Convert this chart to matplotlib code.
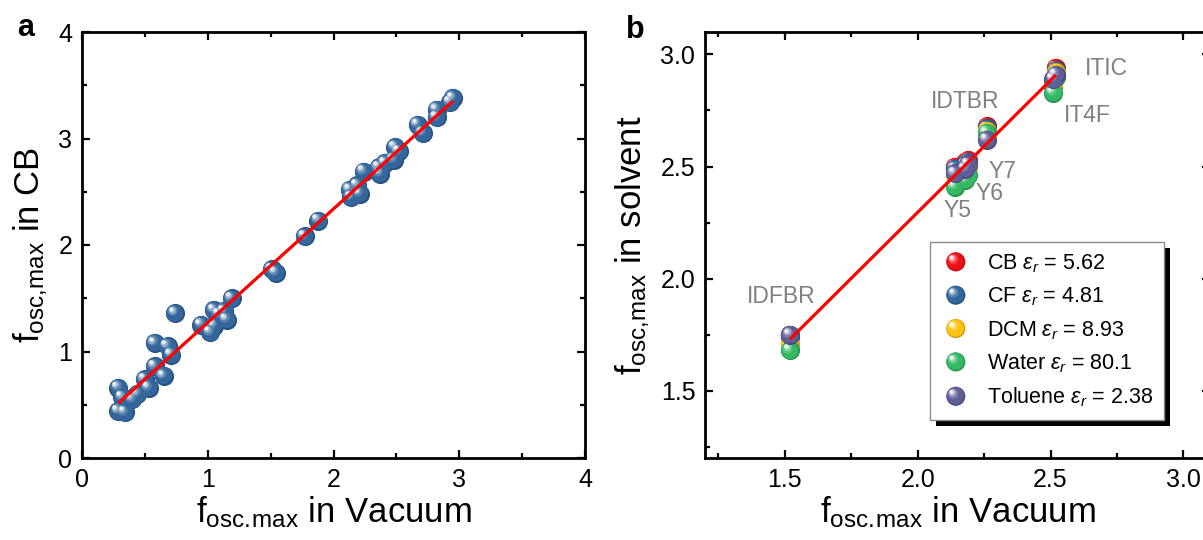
import numpy as np
import matplotlib
matplotlib.use("Agg")
import matplotlib.pyplot as plt
from matplotlib.colors import to_rgb
from matplotlib.transforms import ScaledTranslation, IdentityTransform
from matplotlib.patches import Circle, Rectangle
from matplotlib.lines import Line2D
from matplotlib.legend_handler import HandlerBase
from matplotlib.ticker import MultipleLocator

plt.rcParams["font.family"] = ["Liberation Sans", "DejaVu Sans"]
plt.rcParams["mathtext.fontset"] = "custom"
plt.rcParams["mathtext.rm"] = "Liberation Sans"
plt.rcParams["mathtext.it"] = "Liberation Sans:italic"
plt.rcParams["mathtext.bf"] = "Liberation Sans:bold"

# ---- panel a: oscillator strength in vacuum vs. chlorobenzene ----
vac_a = [0.29, 0.29, 0.34, 0.32, 0.40, 0.44, 0.50, 0.53, 0.58, 0.65, 0.58, 0.68,
         0.71, 0.74, 0.95, 1.02, 1.05, 1.05, 1.09, 1.13, 1.15, 1.19, 1.51, 1.54,
         1.77, 1.88, 2.14, 2.13, 2.19, 2.21, 2.24, 2.36, 2.37, 2.41, 2.48, 2.49,
         2.52, 2.67, 2.71, 2.82, 2.82, 2.93, 2.95]
cb_a = [0.66, 0.44, 0.43, 0.57, 0.55, 0.60, 0.74, 0.66, 0.86, 0.77, 1.08, 1.05,
        0.97, 1.36, 1.25, 1.18, 1.39, 1.24, 1.35, 1.38, 1.30, 1.50, 1.77, 1.74,
        2.08, 2.23, 2.45, 2.52, 2.56, 2.48, 2.69, 2.73, 2.67, 2.77, 2.80, 2.92,
        2.88, 3.13, 3.05, 3.27, 3.20, 3.34, 3.38]

# ---- panel b: acceptors in five solvents ----
molecules = ["IDFBR", "Y5", "Y6", "Y7", "IDTBR", "ITIC", "IT4F"]
vac_b = [1.52, 2.14, 2.18, 2.19, 2.26, 2.52, 2.51]
solvents = ["CB", "CF", "DCM", "Water", "Toluene"]
eps_r = ["5.62", "4.81", "8.93", "80.1", "2.38"]
solvent_vals = {
    "CB":      [1.75, 2.50, 2.52, 2.53, 2.68, 2.94, 2.87],
    "CF":      [1.74, 2.49, 2.51, 2.52, 2.67, 2.93, 2.86],
    "DCM":     [1.71, 2.46, 2.48, 2.50, 2.66, 2.92, 2.87],
    "Water":   [1.68, 2.41, 2.44, 2.46, 2.65, 2.90, 2.83],
    "Toluene": [1.75, 2.47, 2.49, 2.51, 2.62, 2.91, 2.89],
}
solvent_colors = ["#EE0F17", "#33669C", "#FFC20E", "#33B864", "#5F5F98"]
point_color_a = "#33669C"
fit_color = "#FF0000"
label_gray = "#808080"

W, H = 1203, 540
fig = plt.figure(figsize=(W / 100, H / 100), dpi=100)

SPH = 13.8  # sphere diameter in points


def shade_layers(color):
    base = np.array(to_rgb(color))
    white = np.ones(3)
    mix = lambda t: (1 - t) * base + t * white
    return [
        (1.00, 0.00, 0.00, base * 0.82),
        (0.90, -0.03, 0.03, base),
        (0.54, -0.14, 0.14, mix(0.18)),
        (0.38, -0.18, 0.18, mix(0.45)),
        (0.25, -0.21, 0.21, mix(0.75)),
        (0.13, -0.22, 0.22, white),
    ]


def spheres(ax, x, y, color, zorder):
    for frac, dx, dy, c in shade_layers(color):
        tr = ax.transData + ScaledTranslation(dx * SPH / 72, dy * SPH / 72,
                                              fig.dpi_scale_trans)
        ax.scatter(x, y, s=(frac * SPH) ** 2, color=[c], linewidths=0,
                   transform=tr, zorder=zorder)


class SphereHandler(HandlerBase):
    def legend_artist(self, legend, orig_handle, fontsize, handlebox):
        x0 = -handlebox.xdescent + handlebox.width / 2
        y0 = -handlebox.ydescent + handlebox.height / 2
        art = None
        for frac, dx, dy, c in shade_layers(orig_handle.get_color()):
            art = Circle((x0 + dx * SPH, y0 + dy * SPH), frac * SPH / 2,
                         facecolor=c, edgecolor="none",
                         transform=handlebox.get_transform())
            handlebox.add_artist(art)
        return art


def style_axes(ax, major, minor):
    for s in ax.spines.values():
        s.set_linewidth(2.0)
    ax.xaxis.set_major_locator(MultipleLocator(major))
    ax.xaxis.set_minor_locator(MultipleLocator(minor))
    ax.yaxis.set_major_locator(MultipleLocator(major))
    ax.yaxis.set_minor_locator(MultipleLocator(minor))
    ax.tick_params(which="both", direction="in", top=True, right=True,
                   width=1.6, labelsize=18, pad=7)
    ax.tick_params(which="major", length=6)
    ax.tick_params(which="minor", length=3.5)


xlabel = r"f$_{\mathregular{osc.\!max}}$ in Vacuum"

# ---------------- panel a ----------------
axa = fig.add_axes([82 / W, (H - 458) / H, 503 / W, 426 / H])
style_axes(axa, 1, 0.5)
axa.set_xlim(0, 4)
axa.set_ylim(0, 4)
spheres(axa, vac_a, cb_a, point_color_a, 3)
ka, ba = np.polyfit(vac_a, cb_a, 1)
xa = np.array([min(vac_a), max(vac_a)])
axa.plot(xa, ka * xa + ba, color=fit_color, lw=2.3, zorder=10, solid_capstyle="butt")
axa.set_xlabel(xlabel, fontsize=25, labelpad=2)
axa.set_ylabel(r"f$_{\mathregular{osc{,}max}}$ in CB", fontsize=25, labelpad=6)
fig.text(26 / W, 1 - 28 / H, "a", fontsize=22, fontweight="bold",
         ha="center", va="center")

# ---------------- panel b ----------------
axb = fig.add_axes([705 / W, (H - 458) / H, 505 / W, 426 / H])
style_axes(axb, 0.5, 0.25)
axb.set_xlim(1.2, 3.1)
axb.set_ylim(1.2, 3.1)
axb.xaxis.set_major_formatter(plt.FormatStrFormatter("%.1f"))
axb.yaxis.set_major_formatter(plt.FormatStrFormatter("%.1f"))
handles = []
for i, (sv, col, er) in enumerate(zip(solvents, solvent_colors, eps_r)):
    spheres(axb, vac_b, solvent_vals[sv], col, 3 + i)
    handles.append(Line2D([], [], color=col,
                          label=sv + r" $\varepsilon_r$ = " + er))
all_x = np.tile(vac_b, len(solvents))
all_y = np.concatenate([solvent_vals[s] for s in solvents])
kb, bb = np.polyfit(all_x, all_y, 1)
xb = np.array([min(vac_b), max(vac_b)])
axb.plot(xb, kb * xb + bb, color=fit_color, lw=2.3, zorder=10, solid_capstyle="butt")
axb.set_xlabel(xlabel, fontsize=25, labelpad=2)
axb.set_ylabel(r"f$_{\mathregular{osc{,}max}}$ in solvent", fontsize=25, labelpad=6)

# molecule names
name_pos = {
    "ITIC": (2.628, 2.938, "left"),
    "IT4F": (2.549, 2.729, "left"),
    "IDTBR": (2.177, 2.791, "center"),
    "Y7": (2.267, 2.48, "left"),
    "Y6": (2.218, 2.378, "left"),
    "Y5": (2.098, 2.302, "left"),
    "IDFBR": (1.357, 1.92, "left"),
}
for name in molecules:
    tx, ty, ha = name_pos[name]
    axb.text(tx, ty, name, fontsize=16.5, color=label_gray, ha=ha, va="center",
             zorder=12)

leg = axb.legend(handles=handles, handler_map={Line2D: SphereHandler()},
                 loc="upper left", bbox_to_anchor=(0.4455, 0.508),
                 borderaxespad=0, fontsize=15.5, frameon=True, fancybox=False,
                 framealpha=1, edgecolor="#8C8C8C", handlelength=1.4,
                 handletextpad=0.75, labelspacing=0.5, borderpad=0.5)
leg.get_frame().set_linewidth(1.0)
leg.set_zorder(20)

fig.text(635 / W, 1 - 30 / H, "b", fontsize=22, fontweight="bold",
         ha="center", va="center")

# drop shadow behind the legend
fig.canvas.draw()
fb = leg.get_frame().get_window_extent()
shadow = Rectangle((fb.x0 + 6, fb.y0 - 6), fb.width, fb.height,
                   facecolor="black", edgecolor="none",
                   transform=IdentityTransform(), zorder=19)
shadow.set_clip_on(False)
axb.add_patch(shadow)

fig.savefig("out.png", dpi=100)
